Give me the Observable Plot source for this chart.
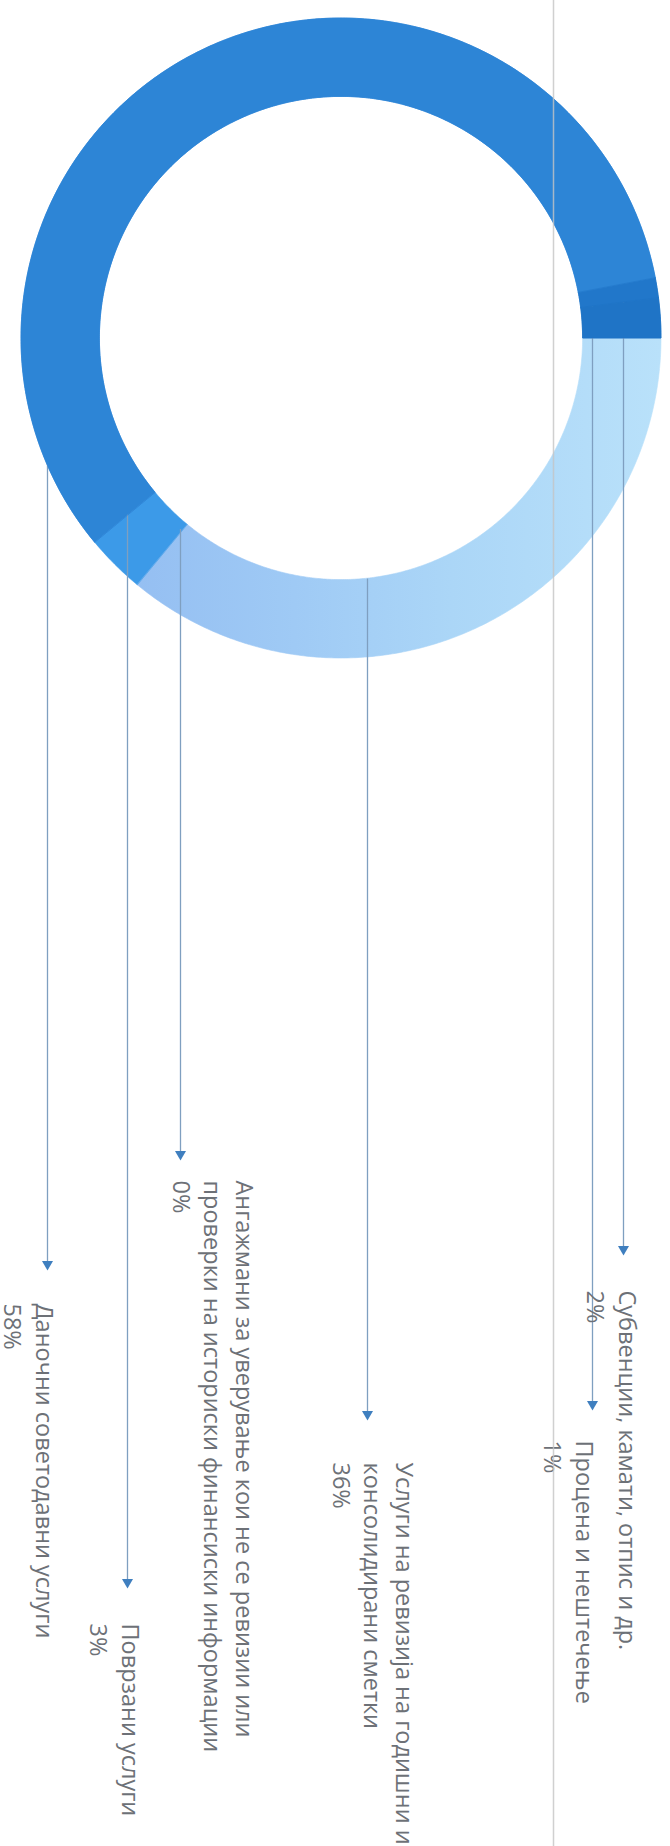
<!DOCTYPE html>
<html>
<head>
<meta charset="utf-8">
<script src="https://cdn.jsdelivr.net/npm/d3@7"></script>
<script src="https://cdn.jsdelivr.net/npm/@observablehq/plot@0.6"></script>
<style>
  html, body { margin: 0; padding: 0; background: #ffffff; }
  #chart { width: 670px; height: 1846px; }
</style>
</head>
<body>
<div id="chart"></div>
<script>
// ---- Data (the scanned page is rotated 90° clockwise) ----
const categories = [
  "Услуги на ревизија на годишни и\nконсолидирани сметки",
  "Ангажмани за уверување кои не се ревизии или\nпроверки на историски финансиски информации",
  "Поврзани услуги",
  "Даночни советодавни услуги",
  "Процена и нештечење",
  "Субвенции, камати, отпис и др."
];
const shares = [36, 0, 3, 58, 1, 2];   // percent
const sliceColors = ["url(#g36)", "#8fbdf0", "#3c9ae8", "#2d85d6", "#2177ca", "#1f74c6"];

// ---- Annotation layout (page pixels) ----
const leaderX = [367, 180, 127, 47, 592, 623];
const arrowY  = [1420, 1160, 1588, 1270, 1410, 1255];
const labelX  = [418, 258, 144, 58, 598, 641];
const labelY  = [1462, 1180, 1623, 1303, 1440, 1290];

// ---- Geometry (donut as it sits on the scanned page) ----
const W = 670, H = 1846;
const CX = 341, CY = 338, RX = 320, RY = 320, INNER = 0.755;

const pie = d3.pie().sort(null).value(d => d)(shares);

// ring polygons sampled from the pie angles (angle 0 = east, clockwise)
const arcPts = [];
pie.forEach((p, i) => {
  const a0 = p.startAngle, a1 = p.endAngle;
  const n = Math.max(2, Math.ceil((a1 - a0) / (Math.PI / 360)) + 1);
  for (let k = 0; k < n; k++) {
    const a = a0 + (a1 - a0) * k / (n - 1);
    arcPts.push({
      name: categories[i], color: sliceColors[i],
      xi: CX + RX * INNER * Math.cos(a), yi: CY + RY * INNER * Math.sin(a),
      xo: CX + RX * Math.cos(a),         yo: CY + RY * Math.sin(a)
    });
  }
});
// dark slices are drawn again above the leader lines (lines vanish on them, as in the scan)
const isDark = c => c.startsWith("#") && d3.hsl(c).l < 0.55;
const darkPts = arcPts.filter(d => isDark(d.color));

// leader lines start where the vertical through leaderX first meets its own slice
const EPS = 0.6 * Math.PI / 180;
const labels = categories.map((name, i) => {
  const p = pie[i];
  let top = CY;
  for (let y = CY - RY; y <= CY + RY; y += 0.5) {
    const u = (leaderX[i] - CX) / RX, v = (y - CY) / RY;
    const r = Math.hypot(u, v);
    if (r < INNER || r > 1) continue;
    let a = Math.atan2(v, u); if (a < 0) a += 2 * Math.PI;
    if (a >= p.startAngle - EPS && a <= p.endAngle + EPS) { top = y; break; }
  }
  return {
    name, share: shares[i],
    text: name + "\n" + shares[i] + "%",
    lx: leaderX[i], top, tip: arrowY[i],
    tx: labelX[i], ty: labelY[i]
  };
});

// arrow head (downward triangle) geometry from symbol size
const ARROW_R = 4.1;
const triY = Math.sqrt(Math.PI * ARROW_R * ARROW_R / (Math.sqrt(3) * 3));
const tipOffset = 2 * triY;

const ringOpts = {
  x1: "xi", y1: "yi", x2: "xo", y2: "yo",
  z: "name", fill: "name", stroke: "name", strokeWidth: 0.6, curve: "linear"
};

const svg = Plot.plot({
  width: W, height: H, margin: 0,
  style: { background: "#ffffff", overflow: "visible" },
  x: { domain: [0, W], range: [0, W], axis: null },
  y: { domain: [0, H], range: [0, H], axis: null },
  color: { domain: categories, range: sliceColors },
  marks: [
    Plot.area(arcPts, ringOpts),
    Plot.ruleX(labels, {
      x: "lx", y1: "top", y2: d => d.tip - tipOffset,
      stroke: "#7f9fc0", strokeWidth: 1.3
    }),
    Plot.area(darkPts, ringOpts),
    Plot.dot(labels, {
      x: "lx", y: d => d.tip - tipOffset, symbol: "triangle", rotate: 180,
      r: ARROW_R, fill: "#3f7fbf", stroke: "none"
    }),
    Plot.text(labels, {
      x: "tx", y: "ty", text: "text", rotate: 90,
      textAnchor: "start", lineAnchor: "top", lineHeight: 1.35,
      fontSize: 23.5, fontFamily: "Open Sans", fill: "#6d7177"
    }),
    // scanner streak across the page
    Plot.ruleX([553], { y1: 0, y2: H, stroke: "#c4c4c4", strokeWidth: 1.5, strokeOpacity: 0.8 })
  ]
});

const defs = d3.select(svg).insert("defs", ":first-child");
const g = defs.append("linearGradient").attr("id", "g36")
  .attr("x1", 0).attr("y1", 0).attr("x2", 1).attr("y2", 0);
[[0, "#95bff2"], [0.3, "#9fcaf5"], [0.6, "#abd6f7"], [1, "#b9e1fa"]]
  .forEach(([o, c]) => g.append("stop").attr("offset", o).attr("stop-color", c));

document.getElementById("chart").appendChild(svg);
</script>
</body>
</html>
